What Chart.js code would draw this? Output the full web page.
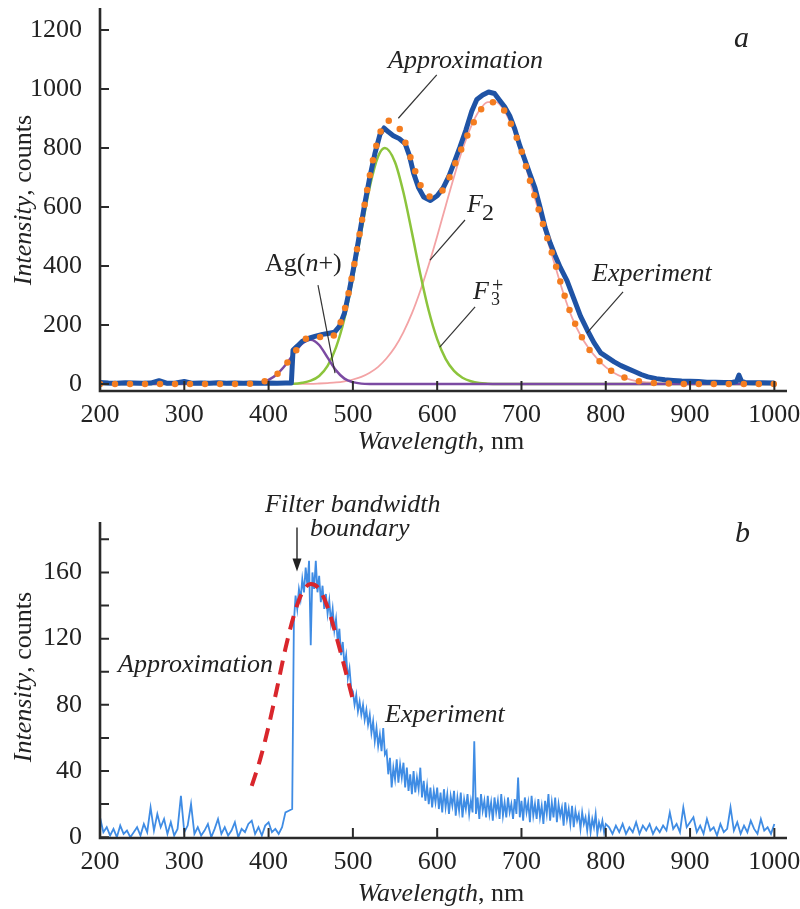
<!DOCTYPE html>
<html><head><meta charset="utf-8">
<script src="https://cdn.jsdelivr.net/npm/chart.js@4/dist/chart.umd.min.js"></script>
<style>
body{margin:0;background:#fff;}
#wrap{position:relative;width:800px;height:909px;overflow:hidden;font-family:'Liberation Serif','Times New Roman',serif;color:#222;}
.t{position:absolute;white-space:nowrap;font-size:26px;line-height:1;}
.i{font-style:italic;}
.rot{transform:translate(-50%,-50%) rotate(-90deg);}
.ctr{transform:translateX(-50%);}
canvas{position:absolute;left:0;}
</style></head>
<body>
<div id="wrap">
<canvas id="c1" width="800" height="465" style="top:0"></canvas>
<canvas id="c2" width="800" height="444" style="top:465px"></canvas>

<div class="t i" style="left:734px;top:22px;font-size:30px">a</div>
<div class="t i" style="left:388px;top:47px">Approximation</div>
<div class="t i" style="left:467px;top:191px">F</div>
<div class="t" style="left:482px;top:200px;font-size:24px">2</div>
<div class="t i" style="left:473px;top:278px">F</div>
<div class="t" style="left:492px;top:275px;font-size:20px">+</div>
<div class="t" style="left:491px;top:290px;font-size:18px">3</div>
<div class="t i" style="left:592px;top:260px">Experiment</div>
<div class="t" style="left:265px;top:250px">Ag(<span class="i">n</span>+)</div>
<div class="t ctr" style="left:441px;top:428px"><span class="i">Wavelength</span>, nm</div>
<div class="t rot" style="left:23px;top:200px"><span class="i">Intensity</span>, counts</div>

<div class="t i" style="left:265px;top:491px">Filter bandwidth</div>
<div class="t i" style="left:310px;top:515px">boundary</div>
<div class="t i" style="left:735px;top:517px;font-size:30px">b</div>
<div class="t i" style="left:118px;top:651px">Approximation</div>
<div class="t i" style="left:385px;top:701px">Experiment</div>
<div class="t ctr" style="left:441px;top:880px"><span class="i">Wavelength</span>, nm</div>
<div class="t rot" style="left:23px;top:677px"><span class="i">Intensity</span>, counts</div>
</div>

<script>
// ---------- Panel a data ----------
const topExpWave = [200,210,220,230,240,250,260,270,280,290,300,310,320,330,340,350,360,370,380,390,400,410,420,427,429,434,440,448,456,464,472,478,484,490,496,502,508,514,520,526,532,537,542,548,555,562,567,572,578,584,592,600,607,614,620,627,634,641,647,654,661,668,674,680,686,692,698,704,710,716,722,728,734,740,746,754,762,770,778,786,794,802,810,818,826,834,842,850,860,870,880,890,900,910,920,930,940,950,955,958,961,965,975,985,1000];
const topExpVals = [5,3,2,4,3,2,3,11,2,3,8,2,3,2,4,2,3,2,3,2,3,2,3,3,115,128,145,155,162,168,172,175,195,240,320,410,510,610,700,780,845,868,855,842,832,815,775,715,665,634,622,638,664,705,750,803,860,925,965,980,990,985,962,940,910,865,808,760,712,665,600,530,478,435,395,350,290,230,183,140,105,90,75,62,52,42,32,24,18,14,12,10,9,8,6,6,5,5,8,30,9,5,4,4,3];

const approxWave = [200,370,380,390,400,410,420,430,440,450,460,470,480,490,500,510,520,530,540,550,560,570,580,590,600,610,620,630,640,650,660,670,680,690,700,710,720,730,740,750,760,770,780,790,800,810,820,830,840,850,860,870,880,890,1000];
const approxVals = [0,0,1,5,14,33,64,103,141,162,160,153,175,249,380,542,706,830,893,888,835,755,675,636,640,672,738,805,868,922,955,955,925,865,790,690,595,500,408,310,228,168,118,84,58,38,24,15,9,5,3,2,1,0,0];

const agWave = [200,380,390,400,410,420,430,440,450,460,470,480,490,500,510,520,1000];
const agVals = [0,1,5,14,33,64,103,137,150,132,89,46,18,6,1,0,0];

const f3Wave = [200,430,440,450,460,470,480,490,500,510,520,530,538,550,560,570,580,590,600,610,620,630,640,650,660,670,1000];
const f3Vals = [0,1,4,11,27,61,124,222,359,517,668,772,800,752,649,514,373,248,152,85,44,21,9,3,1,0,0];

const f2Wave = [200,450,460,470,480,490,500,510,520,530,540,550,560,570,580,590,600,610,620,630,640,650,660,670,680,690,700,710,720,730,740,750,760,770,780,790,800,810,820,830,840,850,860,870,880,890,1000];
const f2Vals = [0,0.5,1.5,3,5,9,15,24,38,58,87,125,176,239,316,404,501,603,703,795,872,927,956,956,925,865,785,688,590,495,400,305,225,165,120,85,57,37,23,14,8,5,3,1.5,1,0,0];

// ---------- Panel b data ----------
const bWave = [
 200,204,208,212,216,220,224,228,232,236,240,244,248,252,256,260,264,268,272,276,280,284,288,292,296,
 300,304,308,312,316,320,324,328,332,336,340,344,348,352,356,360,364,368,372,376,380,384,388,392,396,
 400,404,408,412,416,420,424,428,
 430,432,434,436,438,440,442,444,446,448,450,452,454,456,458,460,462,464,466,468,
 470,472,474,476,478,480,482,484,486,488,490,492,494,496,498,
 500,502,504,506,508,510,512,514,516,518,520,522,524,526,528,530,532,534,536,538,
 540,542,544,546,548,550,552,554,556,558,560,562,564,566,568,570,572,574,576,578,
 580,582,584,586,588,590,592,594,596,598,600,602,604,606,608,610,612,614,616,618,
 620,622,624,626,628,630,632,634,636,638,640,642,644,646,648,650,652,654,656,658,
 660,662,664,666,668,670,672,674,676,678,680,682,684,686,688,690,692,694,696,698,
 700,702,704,706,708,710,712,714,716,718,720,722,724,726,728,730,732,734,736,738,
 740,742,744,746,748,750,752,754,756,758,760,762,764,766,768,770,772,774,776,778,
 780,782,784,786,788,790,792,794,796,798,800,
 804,808,812,816,820,824,828,832,836,840,844,848,852,856,860,864,868,872,876,880,
 884,888,892,896,900,904,908,912,916,920,924,928,932,936,940,944,948,952,956,960,
 964,968,972,976,980,984,988,992,996,1000];
const bVals = [
 12,3,6,1,5,0,7,2,4,0,3,6,1,8,3,18,4,14,6,11,2,9,1,5,25,
 3,7,20,2,6,1,4,8,0,5,11,2,6,1,4,9,0,5,3,8,10,2,6,1,7,
 9,3,5,2,6,15,16,17,
 130,146,138,150,144,156,148,163,152,167,116,160,150,167,148,158,142,152,138,147,
 135,143,130,138,125,132,118,126,110,118,104,110,96,102,90,
 88,80,86,76,82,74,80,71,77,68,74,63,70,58,66,55,62,52,66,50,
 52,38,48,30,42,35,47,33,44,36,45,30,42,28,38,26,40,27,36,29,
 42,24,34,22,31,20,30,18,28,21,30,17,27,15,29,18,26,14,25,19,
 28,13,24,16,27,12,23,17,26,14,22,15,58,14,24,11,26,16,22,12,
 25,14,21,10,24,15,22,11,26,13,21,12,24,15,20,11,23,14,36,12,
 22,10,24,15,21,9,25,13,20,11,23,12,19,8,22,14,26,10,21,12,
 24,9,20,13,18,7,21,11,17,8,19,6,16,10,14,5,15,8,12,4,
 13,3,11,6,14,2,9,5,10,3,8,
 6,2,7,3,8,2,6,3,9,2,7,4,8,2,6,3,7,4,15,5,
 8,3,18,6,9,12,3,7,2,11,4,6,1,8,3,5,18,4,9,2,
 7,3,10,5,2,11,4,6,2,8];

const bApproxWave = [380,390,400,410,420,430,440,450,460,470,480,490,500];
const bApproxVals = [31,47,67,90,114,134,148,153,150,139,122,103,83];

// tick values
const xTickStep = 100;
const topYStep = 200;
const botYStep = 20;
const botYLabelEvery = 40;

// annotation leader lines (data coordinates) and arrows
const topLeaders = [[599.5,1048,553.9,901],[633,556,591.5,420],[645,261,603,125],[820.5,312,777.8,173],[458.6,335,478.8,37]];
const botArrows = [[433.7,187.2,433.7,160.6]];

const pts = (w, v) => w.map((x, i) => ({x: x, y: v[i]}));

const axisPlugin = {
  id: 'axisPlugin',
  afterDraw(chart, args, opts) {
    const ctx = chart.ctx, ca = chart.chartArea;
    const xs = chart.scales.x, ys = chart.scales.y;
    ctx.save();
    ctx.strokeStyle = '#2a2a2a';
    ctx.lineWidth = 2.6;
    ctx.beginPath();
    ctx.moveTo(ca.left, ca.top);
    ctx.lineTo(ca.left, ca.bottom);
    ctx.lineTo(ca.right, ca.bottom);
    ctx.stroke();
    ctx.lineWidth = 2;
    ctx.beginPath();
    xs.ticks.forEach(t => { const p = xs.getPixelForValue(t.value); ctx.moveTo(p, ca.bottom); ctx.lineTo(p, ca.bottom - 10); });
    ys.ticks.forEach(t => { const p = ys.getPixelForValue(t.value); ctx.moveTo(ca.left, p); ctx.lineTo(ca.left + 9, p); });
    ctx.stroke();
    ctx.strokeStyle = '#333';
    ctx.lineWidth = 1.2;
    (opts.leaders || []).forEach(l => {
      ctx.beginPath();
      ctx.moveTo(xs.getPixelForValue(l[0]), ys.getPixelForValue(l[1]));
      ctx.lineTo(xs.getPixelForValue(l[2]), ys.getPixelForValue(l[3]));
      ctx.stroke();
    });
    (opts.arrows || []).forEach(a => {
      const x0 = xs.getPixelForValue(a[0]), y0 = ys.getPixelForValue(a[1]);
      const x1 = xs.getPixelForValue(a[2]), y1 = ys.getPixelForValue(a[3]);
      ctx.lineWidth = 1.5;
      ctx.beginPath(); ctx.moveTo(x0, y0); ctx.lineTo(x1, y1 - 10); ctx.stroke();
      ctx.fillStyle = '#222';
      ctx.beginPath(); ctx.moveTo(x1, y1); ctx.lineTo(x1 - 4.5, y1 - 13); ctx.lineTo(x1 + 4.5, y1 - 13); ctx.closePath(); ctx.fill();
    });
    ctx.restore();
  }
};

const tickFont = {family: "'Liberation Serif','Times New Roman',serif", size: 26};

function xScale(h) {
  return {
    type: 'linear', min: 200, max: 1015,
    grid: {display: false}, border: {display: false},
    ticks: {stepSize: xTickStep, includeBounds: false, color: '#222', font: tickFont, padding: 1, maxRotation: 0, autoSkip: false, callback: v => String(v)},
    afterFit: s => { s.height = h; s.paddingLeft = 0; s.paddingRight = 0; }
  };
}
function yScale(min, max, step, cb) {
  return {
    type: 'linear', min: min, max: max,
    grid: {display: false}, border: {display: false},
    ticks: {stepSize: step, includeBounds: false, color: '#222', font: tickFont, padding: 10, autoSkip: false, callback: cb},
    afterFit: s => { s.width = 100; s.paddingTop = 0; s.paddingBottom = 0; }
  };
}

const common = {
  responsive: false, animation: false, devicePixelRatio: 1,
  plugins: {legend: {display: false}, tooltip: {enabled: false}},
  elements: {point: {radius: 0}}
};

new Chart(document.getElementById('c1'), {
  type: 'line',
  data: {datasets: [
    {data: pts(approxWave, approxVals), borderColor: '#f47d20', borderWidth: 6.5, borderDash: [0, 15], borderCapStyle: 'round', cubicInterpolationMode: 'monotone', order: 0},
    {data: pts(topExpWave, topExpVals), borderColor: '#1f53a5', borderWidth: 5, tension: 0, borderJoinStyle: 'round', order: 1},
    {data: pts(agWave, agVals), borderColor: '#7b4aa2', borderWidth: 2.5, cubicInterpolationMode: 'monotone', order: 2},
    {data: pts(f3Wave, f3Vals), borderColor: '#8cc43c', borderWidth: 2.5, cubicInterpolationMode: 'monotone', order: 3},
    {data: pts(f2Wave, f2Vals), borderColor: '#f3a3a5', borderWidth: 1.8, cubicInterpolationMode: 'monotone', order: 4}
  ]},
  options: Object.assign({}, common, {
    layout: {padding: {left: 0, right: 13, top: 8, bottom: 0}},
    scales: {x: xScale(74), y: yScale(-24, 1275, topYStep, v => String(v))},
    plugins: Object.assign({}, common.plugins, {axisPlugin: {leaders: topLeaders}})
  }),
  plugins: [axisPlugin]
});

new Chart(document.getElementById('c2'), {
  type: 'line',
  data: {datasets: [
    {data: pts(bApproxWave, bApproxVals), borderColor: '#d9262c', borderWidth: 4, borderDash: [14, 9], cubicInterpolationMode: 'monotone', order: 0},
    {data: pts(bWave, bVals), borderColor: '#3f8ce4', borderWidth: 1.8, tension: 0, order: 1}
  ]},
  options: Object.assign({}, common, {
    layout: {padding: {left: 0, right: 13, top: 57, bottom: 0}},
    scales: {x: xScale(71), y: yScale(-0.5, 190.5, botYStep, v => (v % botYLabelEvery === 0 ? String(v) : ''))},
    plugins: Object.assign({}, common.plugins, {axisPlugin: {arrows: botArrows}})
  }),
  plugins: [axisPlugin]
});
</script>
</body></html>
